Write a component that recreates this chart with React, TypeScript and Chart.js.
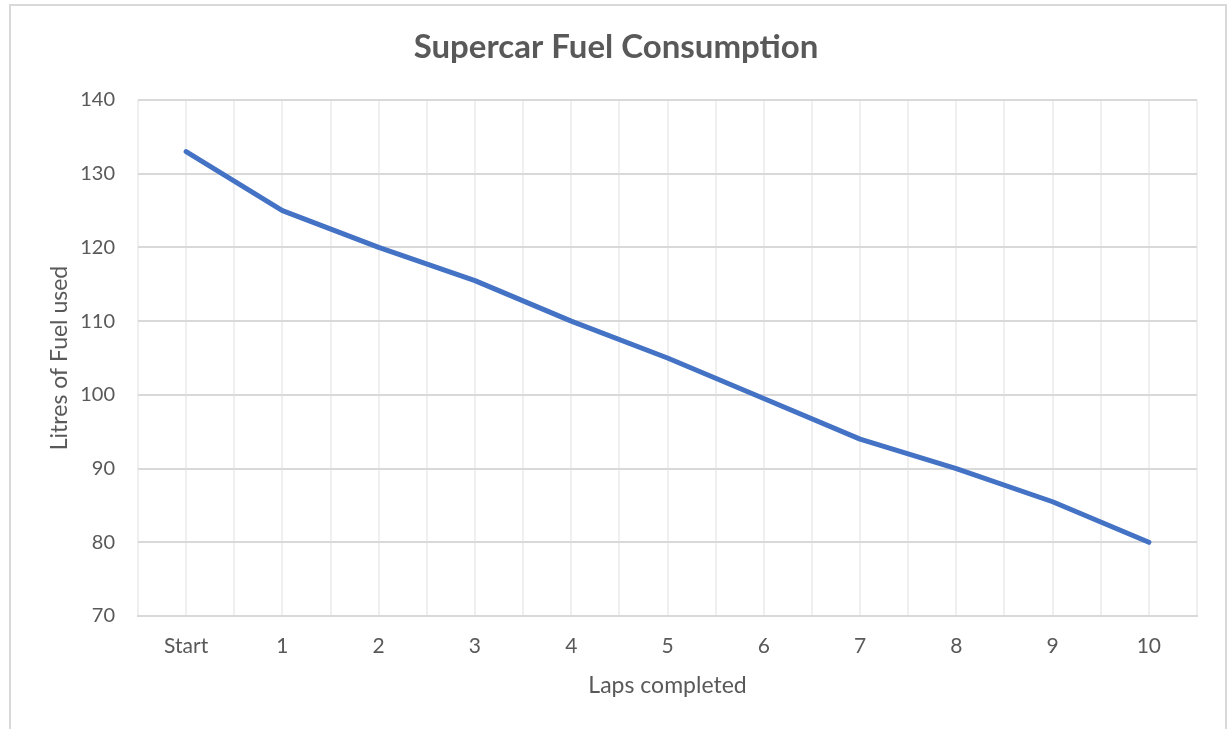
import React, { useEffect, useRef } from "react";
import { Chart, registerables } from "chart.js";

Chart.register(...registerables);

const chartTitle = "Supercar Fuel Consumption";
const xAxisTitle = "Laps completed";
const yAxisTitle = "Litres of Fuel used";
const lapLabels = ["Start", "1", "2", "3", "4", "5", "6", "7", "8", "9", "10"];
const fuelValues = [133, 125, 120, 115.5, 110, 105, 99.5, 94, 90, 85.5, 80];
const yMin = 70;
const yMax = 140;
const yStep = 10;

const FONT = "Lato, 'Noto Sans', sans-serif";
const TEXT = "#595959";

const titlePlugin = {
  id: "excelTitle",
  afterDraw(chart: any) {
    const { ctx } = chart;
    ctx.save();
    ctx.font = `bold 33px ${FONT}`;
    ctx.fillStyle = TEXT;
    ctx.textAlign = "center";
    ctx.textBaseline = "middle";
    ctx.fillText(chartTitle, chart.width / 2, chart.chartArea.top * 0.47);
    ctx.restore();
  },
};

export default function App() {
  const canvasRef = useRef<HTMLCanvasElement | null>(null);

  useEffect(() => {
    const canvas = canvasRef.current;
    if (!canvas) return;
    const chart = new Chart(canvas, {
      type: "line",
      data: {
        labels: lapLabels,
        datasets: [
          {
            label: "Fuel",
            data: fuelValues,
            borderColor: "#4472C4",
            backgroundColor: "#4472C4",
            borderWidth: 5,
            pointRadius: 0,
            pointHoverRadius: 0,
            tension: 0,
            fill: false,
            borderCapStyle: "round",
            borderJoinStyle: "round",
            xAxisID: "x",
            yAxisID: "y",
          },
        ],
      },
      options: {
        responsive: false,
        animation: false,
        layout: { padding: { left: 0, top: 100, right: 35, bottom: 0 } },
        plugins: {
          legend: { display: false },
          tooltip: { enabled: false },
          title: { display: false },
        },
        scales: {
          x: {
            type: "category",
            position: "bottom",
            offset: true,
            grid: { display: true, offset: false, color: "#efefef", lineWidth: 2, drawTicks: false },
            border: { display: true, color: "#d9d9d9", width: 2 },
            ticks: {
              color: TEXT,
              font: { family: FONT, size: 21 },
              padding: 18,
              maxRotation: 0,
              autoSkip: false,
            },
            title: {
              display: true,
              text: xAxisTitle,
              color: TEXT,
              font: { family: FONT, size: 23 },
              padding: { top: 0, bottom: 30 },
            },
            afterFit: (s: any) => {
              s.height = 113;
            },
          },
          x2: {
            type: "category",
            position: "bottom",
            offset: true,
            grid: {
              display: true,
              offset: true,
              color: (ctx: any) => (ctx.index >= lapLabels.length ? "rgba(0,0,0,0)" : "#efefef"),
              lineWidth: 2,
              drawTicks: false,
            },
            border: { display: false },
            ticks: { display: false },
            afterFit: (s: any) => {
              s.height = 0;
            },
          },
          y: {
            type: "linear",
            position: "left",
            min: yMin,
            max: yMax,
            ticks: {
              stepSize: yStep,
              color: TEXT,
              font: { family: FONT, size: 20 },
              padding: 23,
            },
            grid: { color: "#d9d9d9", lineWidth: 2, drawTicks: false },
            border: { display: false },
            title: {
              display: true,
              text: yAxisTitle,
              color: TEXT,
              font: { family: FONT, size: 23 },
              padding: { top: 46, bottom: 0 },
            },
            afterFit: (s: any) => {
              s.width = 138;
            },
          },
        },
      },
      plugins: [titlePlugin],
    } as any);
    return () => chart.destroy();
  }, []);

  return (
    <div
      style={{
        position: "fixed",
        left: 0,
        top: 0,
        width: 1232,
        height: 729,
        background: "#ffffff",
        overflow: "hidden",
      }}
    >
      <canvas ref={canvasRef} width={1232} height={729} style={{ display: "block" }} />
      <div
        style={{
          position: "absolute",
          left: 9,
          top: 4,
          width: 1218,
          height: 800,
          border: "2px solid #d9d9d9",
          boxSizing: "border-box",
          pointerEvents: "none",
        }}
      />
    </div>
  );
}
